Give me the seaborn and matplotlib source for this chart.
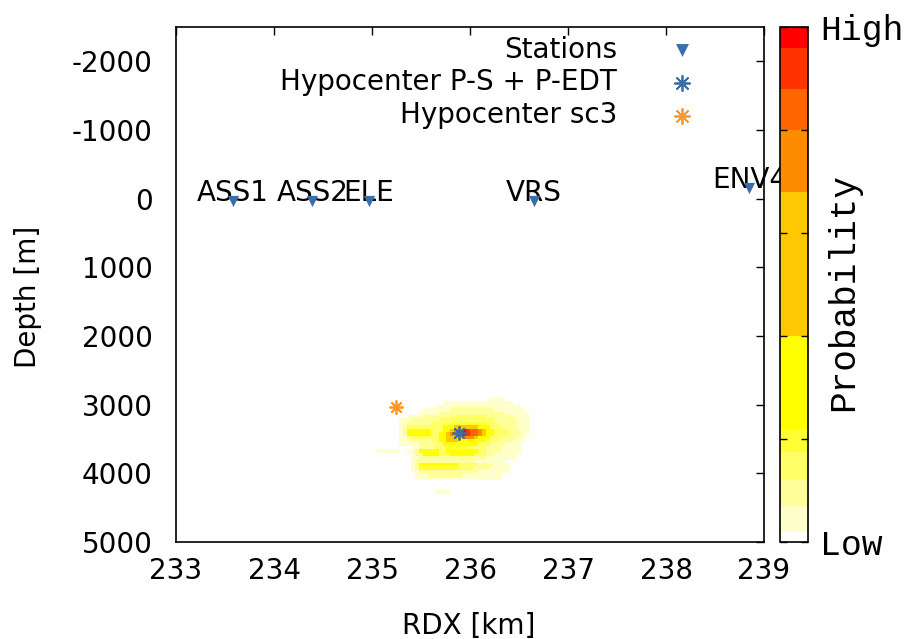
import numpy as np
import matplotlib
matplotlib.use("Agg")
import matplotlib.pyplot as plt
import seaborn as sns
from matplotlib.colors import ListedColormap, BoundaryNorm
from matplotlib.cm import ScalarMappable

# ---------------- data ----------------
station_names = ["ASS1", "ASS2", "ELE", "VRS", "ENV4"]
station_x = [233.58, 234.39, 234.97, 236.65, 238.85]        # km
station_depth = [40, 40, 40, 40, -160]                       # m

hypo_pse_x = [235.89]
hypo_pse_depth = [3410]
hypo_sc3_x = [235.24]
hypo_sc3_depth = [3030]

# probability colour bands (fraction of max) and their colours
band_edges = [0.0, 0.02, 0.07, 0.12, 0.175, 0.22, 0.40, 0.68, 0.80, 0.88, 0.96, 1.0]
band_colors = ["#ffffff", "#ffffcc", "#ffff99", "#ffff66", "#ffff33", "#ffff00",
               "#ffc800", "#ff8c00", "#ff6600", "#ff3300", "#ff0000"]

# probability grid: origin / cell size (km, m) and painted segments
grid_x0, grid_dx, grid_nx = 235.0, 0.04, 41
grid_z0, grid_dz, grid_nz = 2850.0, 50.0, 30
# (row, first col, last col, band level)
blob_segments = [
    (1, 30, 33, 1),
    (2, 18, 35, 1),
    (3, 16, 37, 1),
    (4, 13, 38, 1), (4, 20, 30, 2),
    (5, 12, 39, 1), (5, 17, 33, 2),
    (6, 9, 39, 1), (6, 13, 35, 2), (6, 20, 28, 3),
    (7, 7, 39, 1), (7, 10, 36, 2), (7, 17, 30, 3),
    (8, 7, 39, 1), (8, 9, 36, 2), (8, 15, 31, 3), (8, 20, 28, 4),
    (9, 7, 39, 1), (9, 8, 36, 2), (9, 9, 14, 3), (9, 15, 32, 3), (9, 18, 29, 5), (9, 21, 26, 6),
    (10, 7, 39, 1), (10, 8, 37, 2), (10, 9, 14, 5), (10, 15, 34, 3), (10, 18, 30, 5),
    (10, 20, 28, 6), (10, 21, 27, 7), (10, 23, 26, 8), (10, 23, 24, 9), (10, 23, 23, 10),
    (11, 7, 39, 1), (11, 8, 37, 2), (11, 9, 14, 5), (11, 15, 34, 3), (11, 17, 30, 5),
    (11, 19, 28, 6), (11, 20, 27, 7), (11, 22, 26, 8), (11, 22, 24, 9), (11, 22, 23, 10),
    (12, 7, 38, 1), (12, 9, 36, 2), (12, 10, 13, 3), (12, 14, 32, 3), (12, 17, 29, 5),
    (12, 19, 26, 6), (12, 23, 25, 7),
    (13, 7, 38, 1), (13, 10, 35, 2), (13, 15, 31, 3), (13, 17, 28, 5), (13, 19, 21, 6),
    (14, 7, 37, 1), (14, 12, 33, 2), (14, 16, 29, 3), (14, 18, 26, 5),
    (15, 10, 37, 1), (15, 12, 32, 2), (15, 16, 28, 3), (15, 19, 24, 4),
    (16, 1, 6, 1), (16, 9, 37, 1), (16, 11, 32, 2), (16, 12, 28, 3), (16, 12, 16, 5), (16, 19, 26, 5),
    (17, 10, 36, 1), (17, 11, 30, 2), (17, 13, 16, 5), (17, 17, 19, 3), (17, 20, 25, 5), (17, 26, 28, 3),
    (18, 10, 36, 1), (18, 12, 28, 2),
    (19, 10, 33, 1), (19, 11, 25, 2),
    (20, 10, 34, 1), (20, 11, 30, 2), (20, 12, 21, 5), (20, 22, 26, 3),
    (21, 10, 34, 1), (21, 11, 29, 2), (21, 12, 21, 4), (21, 22, 25, 3),
    (22, 10, 34, 1), (22, 12, 26, 2),
    (23, 11, 32, 1), (23, 14, 22, 2),
    (24, 11, 32, 1),
    (28, 16, 19, 1),
]

x_ticks = [233, 234, 235, 236, 237, 238, 239]
y_ticks = [-2000, -1000, 0, 1000, 2000, 3000, 4000, 5000]
cbar_ticks = [0.0, 0.2, 0.4, 0.6, 0.8, 1.0]
cbar_ticklabels = ["Low", "", "", "", "", "High"]

# ---------------- build the field ----------------
band_mids = [(a + b) / 2 for a, b in zip(band_edges[:-1], band_edges[1:])]
field = np.full((grid_nz, grid_nx), np.nan)
for r, c0, c1, lev in blob_segments:
    field[r, c0:c1 + 1] = band_mids[lev]
x_edges = grid_x0 + grid_dx * np.arange(grid_nx + 1)
z_edges = grid_z0 + grid_dz * np.arange(grid_nz + 1)

cmap = ListedColormap(band_colors)
norm = BoundaryNorm(band_edges, ncolors=len(band_colors))

# ---------------- style ----------------
sns.set_theme(style="white")
plt.rcParams["font.family"] = ["DejaVu Sans"]
plt.rcParams["axes.unicode_minus"] = False
plt.rcParams["axes.axisbelow"] = False
for k in ["text.color", "axes.labelcolor", "xtick.color", "ytick.color", "axes.edgecolor"]:
    plt.rcParams[k] = "black"
FS = 20
MONO = "Liberation Mono"
blue = "#3a6ea8"
orange = "#ff9a2a"

fig = plt.figure(figsize=(9.06, 6.39), dpi=100)
W, H = 906, 639
ax = fig.add_axes([176 / W, 97 / H, 588 / W, 515 / H])
cax = fig.add_axes([780 / W, 97 / H, 28 / W, 515 / H])

ax.pcolormesh(x_edges, z_edges, np.ma.masked_invalid(field), cmap=cmap, norm=norm,
              shading="flat", zorder=1)

sns.scatterplot(x=station_x, y=station_depth, marker="v", color=blue, s=65,
                linewidth=0, ax=ax, label="Stations", zorder=4)
for name, sx, sd in zip(station_names, station_x, station_depth):
    ax.text(sx, sd, name, ha="center", va="baseline", fontsize=FS, color="black",
            clip_on=False, zorder=3)

sns.scatterplot(x=hypo_pse_x, y=hypo_pse_depth, marker=(8, 2, 0), color=blue, s=90,
                linewidth=1.3, ax=ax, label="Hypocenter P-S + P-EDT", zorder=5)
sns.scatterplot(x=hypo_sc3_x, y=hypo_sc3_depth, marker=(8, 2, 0), color=orange, s=90,
                linewidth=1.3, ax=ax, label="Hypocenter sc3", zorder=5)

ax.set_xlim(233, 239)
ax.set_ylim(5000, -2500)
ax.set_xticks(x_ticks)
ax.set_yticks(y_ticks)
ax.tick_params(direction="in", length=6, width=1, top=True, right=True,
               labelsize=FS, colors="black")
ax.tick_params(axis="x", pad=11)
ax.tick_params(axis="y", pad=17)
for sp in ax.spines.values():
    sp.set_linewidth(1.2)
    sp.set_color("black")

ax.set_xlabel("RDX [km]", fontsize=FS)
ax.set_ylabel("Depth [m]", fontsize=FS)
ax.xaxis.set_label_coords(0.498, -0.135)
ax.yaxis.set_label_coords(-0.228, 0.475)

leg = ax.legend(loc="upper right", bbox_to_anchor=(0.917, 0.994), frameon=False,
                markerfirst=False, fontsize=FS, handlelength=2.0, handletextpad=1.33,
                labelspacing=0.17, borderpad=0.2, borderaxespad=0.0, markerscale=1.15)
for col in leg._legend_handle_box.get_children():
    col.align = "right"
for t in leg.get_texts():
    t.set_color("black")

cb = fig.colorbar(ScalarMappable(norm=norm, cmap=cmap), cax=cax, spacing="proportional")
cb.minorticks_off()
cb.set_ticks(cbar_ticks)
cb.outline.set_linewidth(1.2)
cb.outline.set_edgecolor("black")
cax.set_axisbelow(False)
cax.tick_params(which="major", direction="in", left=True, right=True, length=5, width=1,
                pad=9, labelleft=False, labelright=True, colors="black")
cax.tick_params(which="minor", length=0)
cax.set_yticklabels(cbar_ticklabels, fontsize=25, family=MONO)
cb.set_label("Probability", fontsize=26, family=MONO)
cax.yaxis.set_label_coords(1.66, 0.485)

fig.savefig("out.png", dpi=100)
